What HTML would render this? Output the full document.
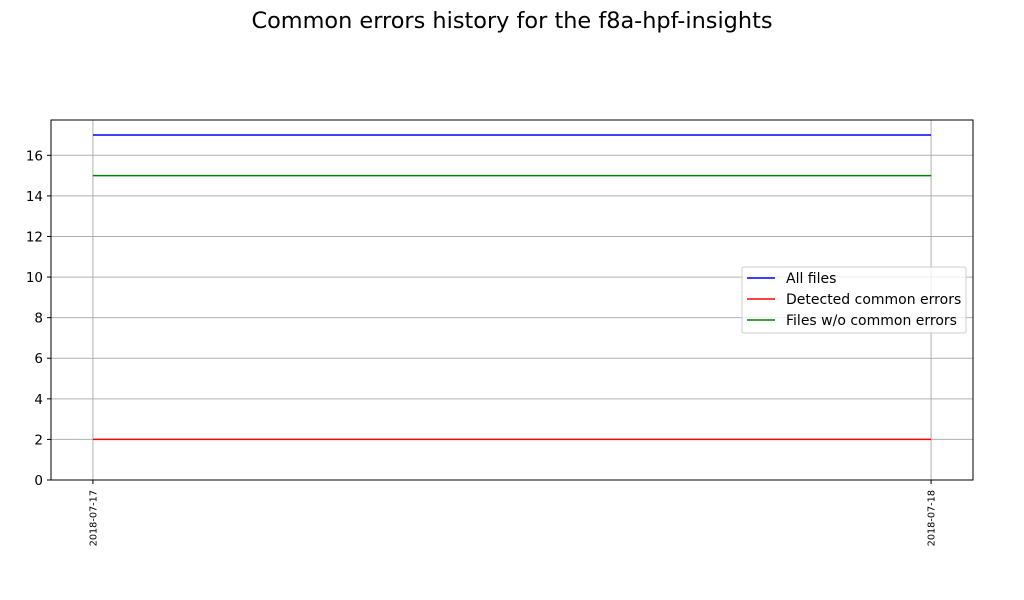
<!DOCTYPE html>
<html><head><meta charset="utf-8"><style>
body{margin:0;background:#fff;}
svg{display:block;font-family:"DejaVu Sans","Liberation Sans",sans-serif;}
</style></head><body>
<svg id="chart" width="1024" height="600">
<text x="512" y="28" text-anchor="middle" font-size="22.4">Common errors history for the f8a-hpf-insights</text>
<g id="grid"></g>
<g id="series"></g>
<rect x="51" y="120" width="922" height="360" fill="none" stroke="#000" stroke-width="1"/>
<g id="axes"></g>
<g>
<rect x="742" y="267" width="224" height="66" fill="#fff" fill-opacity="0.8" stroke="#ccc" rx="2"/>
<g id="legend-items"></g>
</g>
</svg>
<script>
const dates = ["2018-07-17","2018-07-18"];
const allFiles = [17,17];
const detected = [2,2];
const withoutErrors = [15,15];
const yTicks = [0,2,4,6,8,10,12,14,16];
const seriesNames = ["All files","Detected common errors","Files w/o common errors"];
const seriesColors = ["blue","red","green"];

const L=51,R=973,T=120,B=480,yMax=17.74;
const n=dates.length;
const pad=(R-L)/(1+0.1)*0.05;
function xs(i){return L+pad+(n>1?i/(n-1):0.5)*(R-L-2*pad);}
function ys(v){return B-v/yMax*(B-T);}
const NS="http://www.w3.org/2000/svg";
function mk(tag,attrs,parent){const e=document.createElementNS(NS,tag);for(const k in attrs)e.setAttribute(k,attrs[k]);parent.appendChild(e);return e;}
const grid=document.getElementById('grid'),axes=document.getElementById('axes'),ser=document.getElementById('series');
yTicks.forEach(v=>{
  const y=ys(v);
  const g=mk('line',{x1:L,x2:R,y1:y,y2:y,stroke:'#b0b0b0','stroke-width':1},grid);
  
  
  mk('line',{x1:L-4,x2:L,y1:y,y2:y,stroke:'#000'},axes);
  const t=mk('text',{x:L-8,y:y+5,'text-anchor':'end','font-size':13.5},axes);
  t.textContent=v;
  
  
});
dates.forEach((d,i)=>{
  const x=xs(i);
  const g=mk('line',{x1:x,x2:x,y1:T,y2:B,stroke:'#b0b0b0','stroke-width':1},grid);
  
  
  mk('line',{x1:x,x2:x,y1:B,y2:B+4,stroke:'#000'},axes);
  const t=mk('text',{x:0,y:0,'text-anchor':'end','font-size':9.7,transform:`translate(${x+3.5},${B+10}) rotate(-90)`},axes);
  t.textContent=d;
  
  
});
[allFiles,detected,withoutErrors].forEach((arr,s)=>{
  const p=mk('polyline',{points:arr.map((v,i)=>xs(i)+','+ys(v)).join(' '),fill:'none',stroke:seriesColors[s],'stroke-width':1.5},ser);
  
  
});
const li=document.getElementById('legend-items');
seriesNames.forEach((nm,s)=>{
  const y=278+s*21;
  mk('line',{x1:747,x2:775,y1:y,y2:y,stroke:seriesColors[s],'stroke-width':1.5},li);
  const t=mk('text',{x:786,y:y+5,'font-size':14},li);
  t.textContent=nm;
  
  
});
</script>
</body></html>
